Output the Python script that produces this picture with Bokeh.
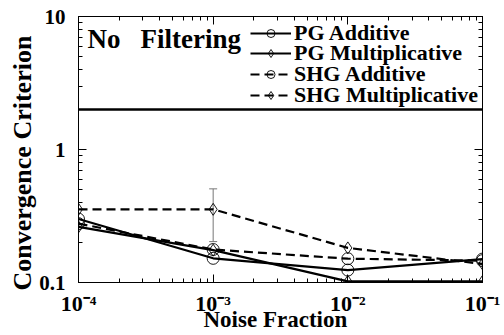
from bokeh.plotting import figure
from bokeh.models import (FixedTicker, LogAxis, Span, Whisker, ColumnDataSource,
                          Legend, LegendItem, Label, Title)
from bokeh.embed import file_html
from bokeh.resources import INLINE

# Convergence criterion versus noise fraction, no filtering applied
noise = [1e-4, 1e-3, 1e-2, 1e-1]
pg_additive = [0.300, 0.152, 0.124, 0.150]
pg_multiplicative = [0.262, 0.175, 0.102, 0.102]
shg_additive = [0.277, 0.177, 0.151, 0.146]
shg_multiplicative = [0.355, 0.355, 0.182, 0.138]

# spread of the SHG multiplicative run at 1e-3
err_x = [1e-3]
err_lower = [0.203]
err_upper = [0.506]

threshold = 2.0

x_ticks = [1e-4, 1e-3, 1e-2, 1e-1]
x_tick_labels = ["10⁻⁴", "10⁻³", "10⁻²", "10⁻¹"]
y_ticks = [0.1, 1, 10]
y_tick_labels = ["0.1", "1", "10"]

FONT = "Liberation Serif"

p = figure(width=504, height=335, x_axis_type="log", y_axis_type="log",
           x_range=(1e-4, 1e-1), y_range=(0.1, 10),
           output_backend="svg", toolbar_location=None,
           min_border_left=78, min_border_right=22,
           min_border_top=16, min_border_bottom=53)
p.grid.visible = False
p.outline_line_color = "black"
p.background_fill_color = "white"
p.border_fill_color = "white"

x_minor = [m * 10.0 ** e for e in range(-4, -1) for m in range(2, 10)]
y_minor = [m * 10.0 ** e for e in range(-1, 1) for m in range(2, 10)]

def style_axis(ax, ticks, minor):
    ax.ticker = FixedTicker(ticks=ticks, minor_ticks=minor)
    ax.major_tick_in = 8
    ax.major_tick_out = 0
    ax.minor_tick_in = 4
    ax.minor_tick_out = 0
    ax.axis_line_color = "black"
    ax.major_tick_line_color = "black"
    ax.minor_tick_line_color = "black"

xa = p.xaxis[0]
style_axis(xa, x_ticks, x_minor)
xa.major_label_overrides = dict(zip(x_ticks, x_tick_labels))
xa.major_label_text_font = FONT
xa.major_label_text_font_style = "bold"
xa.major_label_text_font_size = "22px"
xa.major_label_text_color = "black"
xa.major_label_standoff = 8

ya = p.yaxis[0]
style_axis(ya, y_ticks, y_minor)
ya.major_label_overrides = dict(zip(y_ticks, y_tick_labels))
ya.major_label_text_font = FONT
ya.major_label_text_font_style = "bold"
ya.major_label_text_font_size = "21px"
ya.major_label_text_color = "black"
ya.major_label_standoff = 13

# axis titles as side-panel titles so they can be placed along the axis
p.add_layout(Title(text="Convergence Criterion", align="left", offset=-8,
                   text_font=FONT, text_font_style="bold",
                   text_font_size="26px", text_color="black", standoff=0),
             "left")
p.add_layout(Title(text="Noise Fraction", align="left", offset=125,
                   vertical_align="top", standoff=-24,
                   text_font=FONT, text_font_style="bold",
                   text_font_size="23px", text_color="black"),
             "below")

# mirrored tick marks on top and right
top = LogAxis()
style_axis(top, x_ticks, x_minor)
top.major_label_text_color = None
top.major_label_text_font_size = "2px"
top.major_label_standoff = 0
p.add_layout(top, "above")
right = LogAxis()
style_axis(right, y_ticks, y_minor)
right.major_label_text_color = None
right.major_label_text_font_size = "2px"
right.major_label_standoff = 0
p.add_layout(right, "right")

p.add_layout(Span(location=threshold, dimension="width",
                  line_color="black", line_width=2.5))

err_src = ColumnDataSource(dict(x=err_x, lower=err_lower, upper=err_upper))
w = Whisker(source=err_src, base="x", lower="lower", upper="upper",
            line_color="#777777", line_width=1)
w.upper_head.size = 8
w.lower_head.size = 8
w.upper_head.line_color = "#777777"
w.lower_head.line_color = "#777777"
p.add_layout(w)

series = [
    ("PG Additive", pg_additive, "solid", "circle"),
    ("PG Multiplicative", pg_multiplicative, "solid", "diamond"),
    ("SHG Additive", shg_additive, "9 5", "circle"),
    ("SHG Multiplicative", shg_multiplicative, "9 5", "diamond"),
]

# one single-row legend per series so the rows sit tightly stacked
legend_rows_y = [236, 216, 195, 174]
for (name, vals, dash, mk), ly in zip(series, legend_rows_y):
    ln = p.line(noise, vals, line_color="black", line_width=2.2, line_dash=dash)
    if mk == "circle":
        sc = p.scatter(noise, vals, marker="circle", size=12,
                       line_color="black", line_width=0.9, fill_alpha=0)
    else:
        sc = p.scatter(noise, vals, marker="diamond", size=12,
                       line_color="black", line_width=0.9, fill_alpha=0)
    lg = Legend(items=[LegendItem(label=name, renderers=[ln, sc])],
                location=(172, ly), padding=0, margin=0, spacing=0,
                glyph_width=41, glyph_height=20, label_height=20,
                label_standoff=3, border_line_color=None,
                background_fill_alpha=0,
                label_text_font=FONT, label_text_font_style="bold",
                label_text_font_size="22px", label_text_color="black")
    p.add_layout(lg)

p.add_layout(Label(x=1e-4, y=10, x_offset=9, y_offset=-22, text="No",
                   text_font=FONT, text_font_style="bold", text_color="black",
                   text_font_size="27px", text_baseline="alphabetic"))
p.add_layout(Label(x=1e-4, y=10, x_offset=62, y_offset=-22, text="Filtering",
                   text_font=FONT, text_font_style="bold", text_color="black",
                   text_font_size="27px", text_baseline="alphabetic"))

open("out.html", "w").write(file_html(p, INLINE))
